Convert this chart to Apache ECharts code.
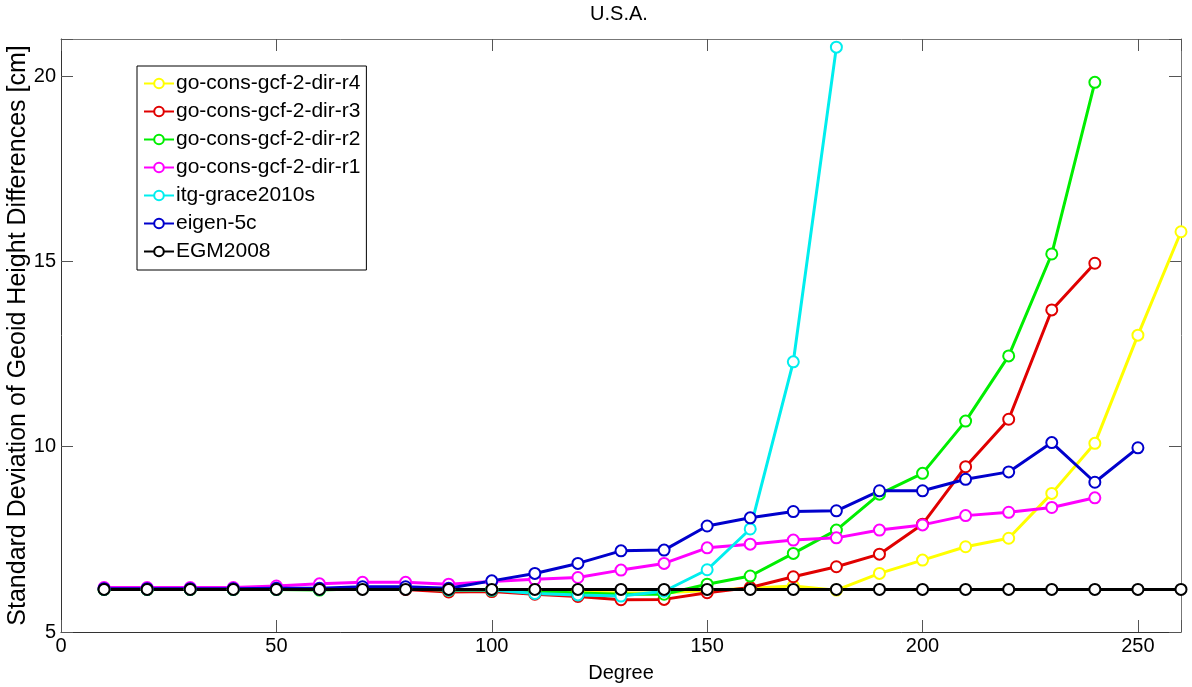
<!DOCTYPE html>
<html>
<head>
<meta charset="utf-8">
<script src="https://cdn.jsdelivr.net/npm/echarts@6/dist/echarts.min.js"></script>
<style>
  html, body { margin: 0; padding: 0; background: #fff; }
  #chart { width: 1192px; height: 687px; }
</style>
</head>
<body>
<div id="chart"></div>
<script>
// spherical harmonic degree
let degrees = [10, 20, 30, 40, 50, 60, 70, 80, 90, 100, 110, 120, 130, 140, 150, 160, 170, 180, 190, 200, 210, 220, 230, 240, 250, 260];

let seriesNames = ['go-cons-gcf-2-dir-r4', 'go-cons-gcf-2-dir-r3', 'go-cons-gcf-2-dir-r2', 'go-cons-gcf-2-dir-r1', 'itg-grace2010s', 'eigen-5c', 'EGM2008'];
let seriesColors = ['#ffff00', '#e00000', '#00ee00', '#ff00ff', '#00eeee', '#0000cc', '#000000'];

let r4 = [6.15, 6.15, 6.15, 6.15, 6.15, 6.15, 6.17, 6.17, 6.15, 6.15, 6.12, 6.08, 6.05, 6.06, 6.12, 6.18, 6.24, 6.13, 6.58, 6.94, 7.3, 7.53, 8.74, 10.09, 13.01, 15.8];
let r3 = [6.15, 6.15, 6.15, 6.15, 6.15, 6.15, 6.17, 6.15, 6.08, 6.09, 6.02, 5.96, 5.87, 5.88, 6.06, 6.2, 6.49, 6.76, 7.1, 7.91, 9.46, 10.74, 13.69, 14.95];
let r2 = [6.15, 6.15, 6.15, 6.15, 6.15, 6.13, 6.17, 6.17, 6.13, 6.13, 6.1, 6.05, 6.02, 6.02, 6.29, 6.51, 7.12, 7.75, 8.72, 9.28, 10.69, 12.45, 15.2, 19.83];
let r1 = [6.2, 6.2, 6.2, 6.2, 6.24, 6.3, 6.34, 6.34, 6.29, 6.36, 6.42, 6.47, 6.67, 6.85, 7.27, 7.37, 7.48, 7.54, 7.75, 7.89, 8.14, 8.23, 8.36, 8.62];
let itg = [6.15, 6.15, 6.15, 6.15, 6.15, 6.15, 6.17, 6.17, 6.13, 6.13, 6.04, 6.0, 5.97, 6.1, 6.68, 7.78, 12.29, 20.78];
let eigen = [6.17, 6.17, 6.17, 6.17, 6.18, 6.18, 6.22, 6.22, 6.18, 6.38, 6.58, 6.85, 7.19, 7.21, 7.86, 8.08, 8.25, 8.27, 8.81, 8.81, 9.12, 9.32, 10.11, 9.04, 9.97];
let egm = [6.15, 6.15, 6.15, 6.15, 6.15, 6.15, 6.15, 6.15, 6.15, 6.15, 6.15, 6.15, 6.15, 6.15, 6.15, 6.15, 6.15, 6.15, 6.15, 6.15, 6.15, 6.15, 6.15, 6.15, 6.15, 6.15];

let seriesValues = [r4, r3, r2, r1, itg, eigen, egm];

let xTicks = [0, 50, 100, 150, 200, 250];
let yTicks = [5, 10, 15, 20];

let font = 'Liberation Sans, Arial, sans-serif';

let chart = echarts.init(document.getElementById('chart'));

let series = [];
for (let i = 0; i < seriesValues.length; i++) {
    let data = [];
    for (let j = 0; j < seriesValues[i].length; j++) {
        data.push([degrees[j], seriesValues[i][j]]);
    }
    series.push({
        name: seriesNames[i],
        type: 'line',
        data: data,
        xAxisIndex: 0,
        yAxisIndex: 0,
        symbol: 'emptyCircle',
        symbolSize: 11,
        showAllSymbol: true,
        animation: false,
        lineStyle: { color: seriesColors[i], width: 3 },
        itemStyle: { color: seriesColors[i], borderColor: seriesColors[i], borderWidth: 2.5 },
        emphasis: { disabled: true }
    });
}

let labelFilter = (list) => (v) => list.indexOf(v) >= 0 ? String(v) : '';

chart.setOption({
    animation: false,
    title: {
        text: 'U.S.A.',
        left: 614,
        textAlign: 'center',
        top: -1,
        textStyle: { fontFamily: font, fontSize: 20, fontWeight: 'normal', color: '#000' }
    },
    legend: {
        orient: 'vertical',
        left: 137,
        top: 66,
        padding: [7, 6, 8, 6],
        backgroundColor: '#fff',
        borderColor: '#000',
        borderWidth: 1,
        borderRadius: 0,
        itemWidth: 30,
        itemHeight: 12,
        itemGap: 7,
        data: seriesNames,
        textStyle: { fontFamily: font, fontSize: 21, lineHeight: 21, color: '#000', padding: [0, 0, 0, -3] }
    },
    grid: {
        left: 61,
        right: 11,
        top: 39,
        bottom: 55,
        outerBoundsMode: 'none'
    },
    xAxis: [
        {
            type: 'value',
            min: 0,
            max: 260,
            interval: 50,
            name: 'Degree',
            nameLocation: 'middle',
            nameGap: 31,
            nameMoveOverlap: false,
            nameTextStyle: { fontFamily: font, fontSize: 20, color: '#000' },
            axisLine: { show: true, lineStyle: { color: '#333', width: 1 } },
            axisTick: { show: true, inside: true, length: 12, lineStyle: { color: '#555' } },
            axisLabel: { margin: 4, fontFamily: font, fontSize: 20, color: '#000', formatter: labelFilter(xTicks) },
            splitLine: { show: false }
        },
        {
            type: 'value',
            position: 'top',
            min: 0,
            max: 260,
            interval: 50,
            axisLine: { show: true, onZero: false, lineStyle: { color: '#777', width: 1 } },
            axisTick: { show: true, inside: true, length: 12, lineStyle: { color: '#555' } },
            axisLabel: { show: false },
            splitLine: { show: false }
        }
    ],
    yAxis: [
        {
            type: 'value',
            min: 5,
            max: 21,
            interval: 5,
            name: 'Standard Deviation of Geoid Height Differences [cm]',
            nameLocation: 'middle',
            nameGap: 30,
            nameMoveOverlap: false,
            nameTextStyle: { fontFamily: font, fontSize: 25, color: '#000' },
            axisLine: { show: true, lineStyle: { color: '#333', width: 1 } },
            axisTick: { show: true, inside: true, length: 12, lineStyle: { color: '#555' } },
            axisLabel: { margin: 5, fontFamily: font, fontSize: 20, color: '#000', formatter: labelFilter(yTicks) },
            splitLine: { show: false }
        },
        {
            type: 'value',
            position: 'right',
            min: 5,
            max: 21,
            interval: 5,
            axisLine: { show: true, onZero: false, lineStyle: { color: '#777', width: 1 } },
            axisTick: { show: true, inside: true, length: 12, lineStyle: { color: '#555' } },
            axisLabel: { show: false },
            splitLine: { show: false }
        }
    ],
    series: series
});
</script>
</body>
</html>
